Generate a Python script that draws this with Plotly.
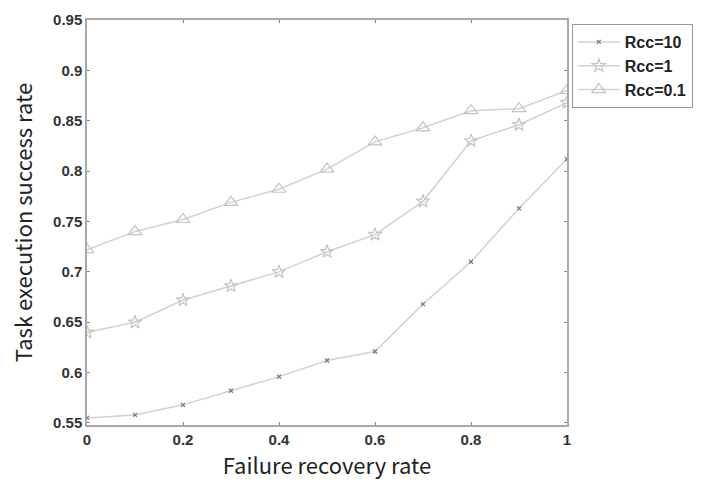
import plotly.graph_objects as go

x_vals = [0, 0.1, 0.2, 0.3, 0.4, 0.5, 0.6, 0.7, 0.8, 0.9, 1.0]
rcc10 = [0.555, 0.558, 0.568, 0.582, 0.596, 0.612, 0.621, 0.668, 0.710, 0.763, 0.812]
rcc1 = [0.640, 0.650, 0.672, 0.686, 0.700, 0.720, 0.737, 0.770, 0.830, 0.846, 0.868]
rcc01 = [0.722, 0.740, 0.752, 0.769, 0.782, 0.802, 0.829, 0.843, 0.860, 0.862, 0.880]
names = ["Rcc=10", "Rcc=1", "Rcc=0.1"]
x_ticks = [0, 0.2, 0.4, 0.6, 0.8, 1]
y_ticks = [0.55, 0.6, 0.65, 0.7, 0.75, 0.8, 0.85, 0.9, 0.95]

line_col = "#d2d2d2"
fig = go.Figure()
fig.add_trace(go.Scatter(x=x_vals, y=rcc10, name=names[0], mode="lines+markers",
                         line=dict(color=line_col, width=1.5),
                         marker=dict(symbol="x-thin-open", size=4, color="#777777",
                                     line=dict(color="#777777", width=1.2))))
fig.add_trace(go.Scatter(x=x_vals, y=rcc1, name=names[1], mode="lines+markers",
                         line=dict(color=line_col, width=1.5),
                         marker=dict(symbol="star-open", size=10, color="#c4c4c4",
                                     line=dict(color="#c4c4c4", width=1.2))))
fig.add_trace(go.Scatter(x=x_vals, y=rcc01, name=names[2], mode="lines+markers",
                         line=dict(color=line_col, width=1.5),
                         marker=dict(symbol="triangle-up-open", size=12, color="#c4c4c4",
                                     line=dict(color="#c4c4c4", width=1.2))))

axis_common = dict(showgrid=False, zeroline=False, showline=True, linecolor="#a8a8a8",
                   linewidth=1.5, mirror="ticks", ticks="inside", ticklen=3,
                   tickcolor="#888888", automargin=False,
                   tickfont=dict(family="Liberation Sans, Arial", size=15, color="#333333",
                                 weight="bold"))
fig.update_xaxes(range=[0, 1], tickvals=x_ticks, ticktext=["0", "0.2", "0.4", "0.6", "0.8", "1"],
                 title=dict(text="Failure recovery rate", font=dict(family="Noto Sans CJK SC", size=22, color="#222222"), standoff=10),
                 **axis_common)
fig.update_yaxes(range=[0.548, 0.95], tickvals=y_ticks, ticktext=[f"{t:g}" for t in y_ticks],
                 title=dict(text="Task execution success rate", font=dict(family="Noto Sans CJK SC", size=22, color="#222222"), standoff=14),
                 **axis_common)

fig.update_layout(
    width=707, height=490,
    margin=dict(l=87, r=140, t=20, b=65),
    paper_bgcolor="white", plot_bgcolor="white",
    legend=dict(x=1.01, y=0.99, xanchor="left", yanchor="top",
                bordercolor="#999999", borderwidth=1, bgcolor="white",
                font=dict(family="Liberation Sans, Arial", size=16, color="#222222", weight="bold"),
                itemwidth=42, tracegroupgap=0),
    showlegend=True,
)

fig.write_html("out.html", config={"displayModeBar": False})

with open("out.html", "r", encoding="utf-8") as f:
    html = f.read()
html = html.replace("<head>", "<head><style>html,body{margin:0;padding:0;overflow:hidden;}</style>", 1)
with open("out.html", "w", encoding="utf-8") as f:
    f.write(html)
